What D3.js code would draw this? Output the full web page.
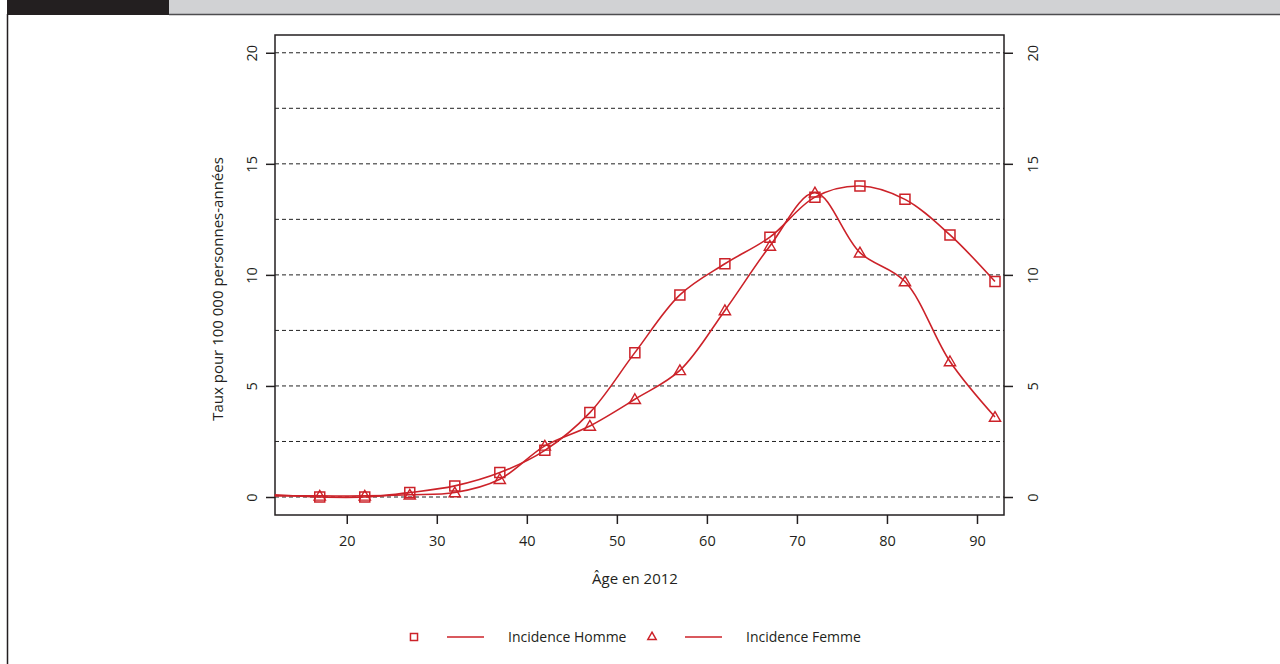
<!DOCTYPE html>
<html>
<head>
<meta charset="utf-8">
<script src="https://cdn.jsdelivr.net/npm/d3@7"></script>
<style>
  body { margin: 0; background: #fff; }
  svg { display: block; font-family: "Open Sans", "Noto Sans", sans-serif; }
</style>
</head>
<body>
<svg id="chart" width="1280" height="664"></svg>
<script>
// données
const ages = [17, 22, 27, 32, 37, 42, 47, 52, 57, 62, 67, 72, 77, 82, 87, 92]
const incidenceHomme = [0.0, 0.0, 0.2, 0.5, 1.1, 2.1, 3.8, 6.5, 9.1, 10.5, 11.7, 13.5, 14.0, 13.4, 11.8, 9.7]
const incidenceFemme = [0.05, 0.05, 0.1, 0.2, 0.8, 2.3, 3.2, 4.4, 5.7, 8.4, 11.3, 13.7, 11.0, 9.7, 6.1, 3.6]
// départ des courbes lissées au bord gauche
const curveStartAge = 12
const curveStartHomme = 0.1
const curveStartFemme = 0.05
const xTicks = [20, 30, 40, 50, 60, 70, 80, 90]
const yTicks = [0, 5, 10, 15, 20]
const gridValues = [0, 2.5, 5, 7.5, 10, 12.5, 15, 17.5, 20]
const seriesNames = ['Incidence Homme', 'Incidence Femme']

const red = '#cc2229'
const svg = d3.select('#chart')

// bandeau du haut (titre coupé)
svg.append('rect').attr('x', 169).attr('y', 0).attr('width', 1111).attr('height', 14).attr('fill', '#d1d2d4')
svg.append('rect').attr('x', 7).attr('y', 0).attr('width', 162).attr('height', 15).attr('fill', '#231f20')
svg.append('line').attr('x1', 169).attr('x2', 1280).attr('y1', 14.5).attr('y2', 14.5)
    .attr('stroke', '#4d4d4f').attr('stroke-width', 1.5)
svg.append('line').attr('x1', 7.5).attr('x2', 7.5).attr('y1', 14).attr('y2', 664)
    .attr('stroke', '#231f20').attr('stroke-width', 1.5)

const plot = { left: 275, right: 1004, top: 35, bottom: 515 }

const x = d3.scaleLinear().domain([12.03, 93]).range([plot.left, plot.right])
const y = d3.scaleLinear().domain([-0.81, 20.8]).range([plot.bottom, plot.top])

// grille pointillée
svg.append('g')
    .selectAll('line')
    .data(gridValues)
    .join('line')
    .attr('x1', plot.left).attr('x2', plot.right)
    .attr('y1', d => y(d)).attr('y2', d => y(d))
    .attr('stroke', '#222').attr('stroke-width', 1)
    .attr('stroke-dasharray', '4,3')

// axes
const xAxis = svg.append('g')
    .attr('transform', `translate(0,${plot.bottom})`)
    .call(d3.axisBottom(x).tickValues(xTicks).tickSize(9).tickPadding(12).tickFormat(d3.format('d')))
const yLeft = svg.append('g')
    .attr('transform', `translate(${plot.left},0)`)
    .call(d3.axisLeft(y).tickValues(yTicks).tickSize(9).tickFormat(d3.format('d')))
const yRight = svg.append('g')
    .attr('transform', `translate(${plot.right},0)`)
    .call(d3.axisRight(y).tickValues(yTicks).tickSize(9).tickFormat(d3.format('d')))

for (const ax of [xAxis, yLeft, yRight]) {
    ax.select('.domain').remove()
    ax.selectAll('line').attr('stroke', '#231f20').attr('stroke-width', 1.5)
    ax.selectAll('text').attr('font-size', 14.5).attr('fill', '#231f20')
        .attr('font-family', '"Open Sans", "Noto Sans", sans-serif')
}
yLeft.selectAll('text')
    .attr('text-anchor', 'middle')
    .attr('dy', null)
    .attr('x', null)
    .attr('transform', () => 'translate(-22,0) rotate(-90)')
    .attr('y', 0)
    .attr('dominant-baseline', 'middle')
yRight.selectAll('text')
    .attr('text-anchor', 'middle')
    .attr('dy', null)
    .attr('x', null)
    .attr('transform', () => 'translate(30,0) rotate(-90)')
    .attr('y', 0)
    .attr('dominant-baseline', 'middle')

// cadre
svg.append('rect')
    .attr('x', plot.left).attr('y', plot.top)
    .attr('width', plot.right - plot.left).attr('height', plot.bottom - plot.top)
    .attr('fill', 'none').attr('stroke', '#231f20').attr('stroke-width', 1.5)

// titres des axes
svg.append('text')
    .attr('x', 635).attr('y', 584)
    .attr('text-anchor', 'middle')
    .attr('font-size', 15).attr('fill', '#231f20')
    .text('Âge en 2012')
svg.append('text')
    .attr('transform', 'translate(223,289) rotate(-90)')
    .attr('text-anchor', 'middle')
    .attr('font-size', 15).attr('fill', '#231f20')
    .text('Taux pour 100 000 personnes-années')

// courbes
const line = d3.line()
    .x(d => x(d[0]))
    .y(d => y(d[1]))
    .curve(d3.curveCatmullRom.alpha(0.5))

const hommePts = ages.map((a, i) => [a, incidenceHomme[i]])
const femmePts = ages.map((a, i) => [a, incidenceFemme[i]])

svg.append('path')
    .datum([[curveStartAge, curveStartHomme], ...hommePts])
    .attr('d', line)
    .attr('fill', 'none').attr('stroke', red).attr('stroke-width', 1.6)
svg.append('path')
    .datum([[curveStartAge, curveStartFemme], ...femmePts])
    .attr('d', line)
    .attr('fill', 'none').attr('stroke', red).attr('stroke-width', 1.6)

const square = d3.symbol().type(d3.symbolSquare).size(100)
const triangle = d3.symbol().type(d3.symbolTriangle).size(55)

svg.append('g')
    .selectAll('path')
    .data(hommePts)
    .join('path')
    .attr('d', square)
    .attr('transform', d => `translate(${x(d[0])},${y(d[1])})`)
    .attr('fill', 'none').attr('stroke', red).attr('stroke-width', 1.5)

svg.append('g')
    .selectAll('path')
    .data(femmePts)
    .join('path')
    .attr('d', triangle)
    .attr('transform', d => `translate(${x(d[0])},${y(d[1]) + 1})`)
    .attr('fill', 'none').attr('stroke', red).attr('stroke-width', 1.4)

// légende
const legend = svg.append('g').attr('transform', 'translate(0,637)')
const legendItems = [
    { name: seriesNames[0], sym: d3.symbol().type(d3.symbolSquare).size(50), x: 414 },
    { name: seriesNames[1], sym: d3.symbol().type(d3.symbolTriangle).size(30), x: 652 },
]
legendItems.forEach((it) => {
    const g = legend.append('g').attr('transform', `translate(${it.x},0)`)
    g.append('path').attr('d', it.sym()).attr('fill', 'none').attr('stroke', red).attr('stroke-width', 1.5)
    g.append('line').attr('x1', 33).attr('x2', 70).attr('y1', 0).attr('y2', 0)
        .attr('stroke', red).attr('stroke-width', 1.5)
    g.append('text').attr('x', 94).attr('y', 0).attr('dy', '0.35em')
        .attr('font-size', 14).attr('fill', '#231f20')
        .text(it.name)
})
</script>
</body>
</html>
